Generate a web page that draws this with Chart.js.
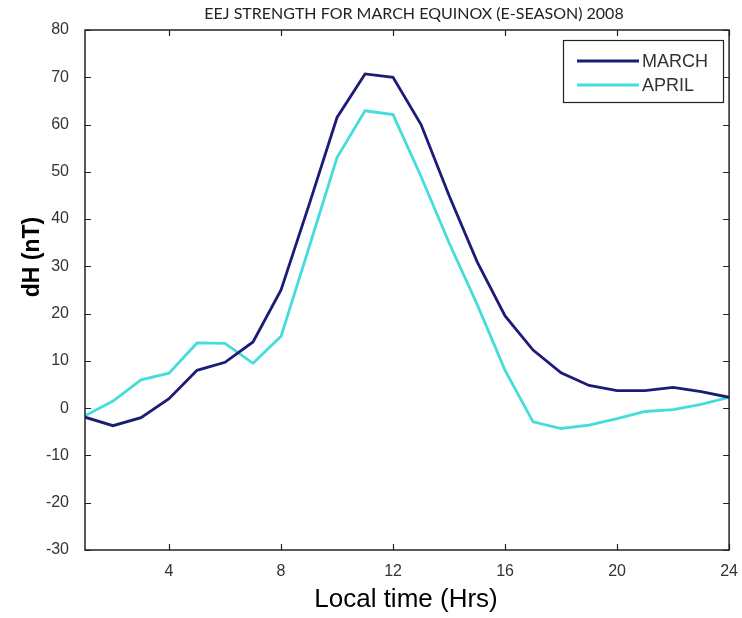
<!DOCTYPE html>
<html>
<head>
<meta charset="utf-8">
<script src="https://cdn.jsdelivr.net/npm/chart.js@4/dist/chart.umd.min.js"></script>
<style>
  body { margin: 0; background: #fff; }
  canvas { display: block; }
</style>
</head>
<body>
<canvas id="myChart" width="742" height="618"></canvas>
<script>
    // heures locales 1..24
    var hours = [1, 2, 3, 4, 5, 6, 7, 8, 9, 10, 11, 12, 13, 14, 15, 16, 17, 18, 19, 20, 21, 22, 23, 24];
    var march = [-1.9, -3.7, -2, 2, 8, 9.7, 14, 25, 43, 61.5, 70.7, 70, 60, 45, 31, 19.5, 12.3, 7.5, 4.8, 3.7, 3.7, 4.4, 3.5, 2.3];
    var april = [-1.6, 1.5, 6, 7.4, 13.8, 13.7, 9.5, 15.2, 34, 53, 62.9, 62.1, 49, 35, 22, 8, -2.9, -4.3, -3.6, -2.2, -0.7, -0.3, 0.8, 2.3];
    var xTicks = [4, 8, 12, 16, 20, 24];
    var titre = "EEJ STRENGTH FOR MARCH EQUINOX (E-SEASON) 2008";
    var xTitre = "Local time (Hrs)";
    var yTitre = "dH (nT)";

    // cadre, graduations vers l'intérieur, titres et légende façon matlab
    var matlabPlugin = {
        id: 'matlab',
        afterDraw: function (chart) {
            var ctx = chart.ctx;
            var a = chart.chartArea;
            var sx = chart.scales.x;
            var sy = chart.scales.y;
            ctx.save();
            ctx.strokeStyle = '#222';
            ctx.lineWidth = 1.5;
            ctx.strokeRect(a.left, a.top, a.right - a.left, a.bottom - a.top);

            ctx.lineWidth = 1.2;
            ctx.beginPath();
            xTicks.forEach(function (t) {
                var px = Math.round(sx.getPixelForValue(t)) + 0.5;
                ctx.moveTo(px, a.bottom); ctx.lineTo(px, a.bottom - 6);
                ctx.moveTo(px, a.top); ctx.lineTo(px, a.top + 6);
            });
            sy.ticks.forEach(function (t) {
                var py = Math.round(sy.getPixelForValue(t.value)) + 0.5;
                ctx.moveTo(a.left, py); ctx.lineTo(a.left + 6, py);
                ctx.moveTo(a.right, py); ctx.lineTo(a.right - 6, py);
            });
            ctx.stroke();

            // titre
            ctx.fillStyle = '#222';
            ctx.textAlign = 'center';
            ctx.textBaseline = 'middle';
            ctx.font = '16px Lato';
            ctx.fillText(titre, 414, 14);

            // titre axe x
            ctx.fillStyle = '#000';
            ctx.textBaseline = 'alphabetic';
            ctx.font = '26px "Liberation Sans"';
            ctx.fillText(xTitre, 406, 607);

            // titre axe y
            ctx.save();
            ctx.translate(33, 257);
            ctx.rotate(-Math.PI / 2);
            ctx.textBaseline = 'middle';
            ctx.font = 'bold 23px "Liberation Sans"';
            ctx.fillText(yTitre, 0, 0);
            ctx.restore();

            // légende
            var lx = 563, ly = 40, lw = 160, lh = 62;
            ctx.fillStyle = '#fff';
            ctx.fillRect(lx, ly, lw, lh);
            ctx.strokeStyle = '#222';
            ctx.lineWidth = 1.2;
            ctx.strokeRect(lx + 0.5, ly + 0.5, lw, lh);
            ctx.textAlign = 'left';
            ctx.textBaseline = 'middle';
            ctx.font = '18px "Liberation Sans"';
            chart.data.datasets.forEach(function (ds, i) {
                var y = ly + 21 + i * 24;
                ctx.strokeStyle = ds.borderColor;
                ctx.lineWidth = ds.borderWidth;
                ctx.beginPath();
                ctx.moveTo(lx + 14, y);
                ctx.lineTo(lx + 76, y);
                ctx.stroke();
                ctx.fillStyle = '#333';
                ctx.fillText(ds.label, lx + 79, y + 1);
            });
            ctx.restore();
        }
    };

    const ctx = document.getElementById('myChart').getContext('2d');
    const myChart = new Chart(ctx, {
        type: 'line',
        data: {
            datasets: [{
                label: 'MARCH',
                data: hours.map(function (h, i) { return { x: h, y: march[i] }; }),
                borderColor: '#1c1c78',
                borderWidth: 2.8,
                pointRadius: 0,
                tension: 0,
                fill: false
            }, {
                label: 'APRIL',
                data: hours.map(function (h, i) { return { x: h, y: april[i] }; }),
                borderColor: '#45dcdc',
                borderWidth: 2.8,
                pointRadius: 0,
                tension: 0,
                fill: false
            }]
        },
        options: {
            responsive: false,
            animation: false,
            layout: { padding: { left: 0, top: 30, right: 12, bottom: 0 } },
            scales: {
                x: {
                    type: 'linear',
                    min: 1,
                    max: 24,
                    afterBuildTicks: function (scale) {
                        scale.ticks = xTicks.map(function (v) { return { value: v }; });
                    },
                    afterFit: function (scale) { scale.height = 68; },
                    grid: { display: false },
                    border: { display: false },
                    ticks: {
                        padding: 4,
                        maxRotation: 0,
                        autoSkip: false,
                        color: '#333',
                        font: { family: 'Liberation Sans', size: 16 }
                    }
                },
                y: {
                    min: -30,
                    max: 80,
                    afterFit: function (scale) { scale.width = 85; },
                    grid: { display: false },
                    border: { display: false },
                    ticks: {
                        stepSize: 10,
                        padding: 8,
                        color: '#333',
                        font: { family: 'Liberation Sans', size: 16 }
                    }
                }
            },
            plugins: {
                legend: { display: false },
                tooltip: { enabled: false }
            }
        },
        plugins: [matlabPlugin]
    });
</script>
</body>
</html>
